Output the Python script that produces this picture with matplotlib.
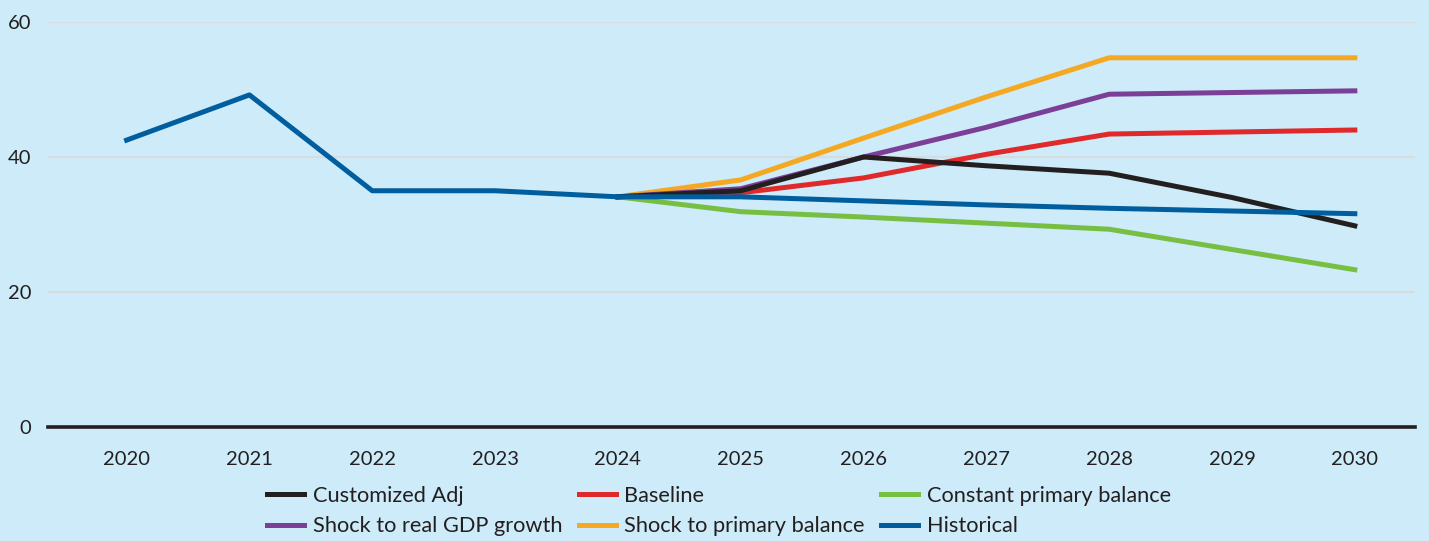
import numpy as np
import matplotlib.pyplot as plt

plt.rcParams['font.family'] = ['Lato', 'DejaVu Sans']

years = [2020, 2021, 2022, 2023, 2024, 2025, 2026, 2027, 2028, 2029, 2030]
proj_years = [2024, 2025, 2026, 2027, 2028, 2029, 2030]

historical = [42.5, 49.2, 35.0, 35.0, 34.1, 34.1, 33.5, 32.9, 32.4, 32.0, 31.6]
customized = [34.1, 35.0, 40.0, 38.7, 37.6, 34.0, 29.8]
baseline = [34.1, 34.7, 36.9, 40.4, 43.4, 43.7, 44.0]
constant_pb = [34.1, 31.9, 31.1, 30.2, 29.3, 26.3, 23.3]
shock_gdp = [34.1, 35.3, 40.0, 44.4, 49.3, 49.55, 49.8]
shock_pb = [34.1, 36.6, 42.8, 48.9, 54.7, 54.7, 54.7]

bg = '#cdebf8'
txt = '#231f20'

fig = plt.figure(figsize=(14.29, 5.41), dpi=100, facecolor=bg)
ax = fig.add_axes([48/1429, 1-427/541, (1415-48)/1429, (427-22)/541])
ax.set_facecolor(bg)

lw = 3.6
l_green, = ax.plot(proj_years, constant_pb, color='#77bf43', lw=lw, label='Constant primary balance')
l_orange, = ax.plot(proj_years, shock_pb, color='#f5a821', lw=lw, label='Shock to primary balance')
l_red, = ax.plot(proj_years, baseline, color='#e0292b', lw=lw, label='Baseline')
l_purple, = ax.plot(proj_years, shock_gdp, color='#7b3f98', lw=lw, label='Shock to real GDP growth')
l_black, = ax.plot(proj_years, customized, color='#231f20', lw=lw, label='Customized Adj')
l_blue, = ax.plot(years, historical, color='#005e9e', lw=lw, label='Historical')

ax.set_xlim(2019.36, 2030.49)
ax.set_ylim(0, 60)
ax.set_xticks(years)
ax.set_yticks([0, 20, 40, 60])
for y in [20, 40, 60]:
    ax.axhline(y, color='#d8dcdf', lw=1.5, zorder=0)
ax.axhline(0, color=txt, lw=2.6, zorder=5, clip_on=False)

for s in ax.spines.values():
    s.set_visible(False)
ax.tick_params(axis='both', length=0, labelsize=14.5, colors=txt)
ax.tick_params(axis='x', pad=17)
ax.tick_params(axis='y', pad=12)

handles = [l_black, l_purple, l_red, l_orange, l_green, l_blue]
fig.legend(handles=handles, labels=[h.get_label() for h in handles],
           ncol=3, loc='center', bbox_to_anchor=(719/1429, 1-511/541),
           frameon=False, fontsize=15.7, handlelength=1.7, handletextpad=0.4,
           columnspacing=0.75, labelspacing=0.5, borderpad=0, labelcolor=txt)

fig.savefig('out.png', dpi=100, facecolor=bg)
